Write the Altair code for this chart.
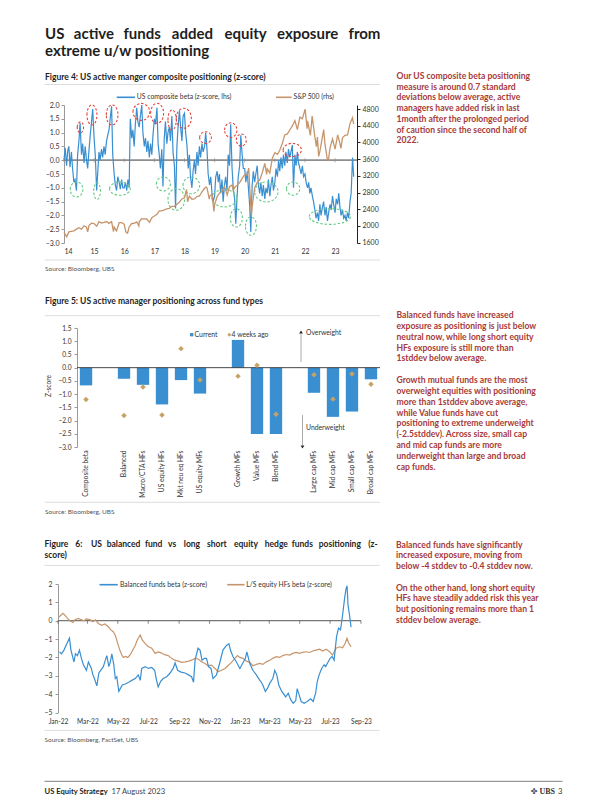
import altair as alt
import pandas as pd

FONT = "Lato"
BLUE = "#3a8fd1"
BROWN = "#c6956b"
TAN = "#c7a265"
DARKRED = "#a63a38"
INK = "#1e1e1e"
AXT = "#333333"
RED_C = "#e5463f"
GREEN_C = "#63cc83"

# ---------------- Figure 4 data ----------------
comp_2014 = [0.0, 0.45, -0.2, 0.35, 0.5, -0.25, 0.3, -0.3, -0.8, -0.7, -1.1, 0.2, 0.7, 1.35, 0.2, 0.6, -0.1, 0.5, 0.0, -0.3, 0.4, 0.9, 1.4, 1.85]
comp_2015 = [0.8, 0.2, -1.1, -0.4, 0.3, 0.0, 0.4, 0.1, 0.5, 0.2, 0.7, 0.9, 1.1, 1.5, 1.95, 0.2, -0.5, -0.9, -1.1, -0.6, -0.8, -1.05, -0.7, -1.0]
comp_2016 = [-1.0, -0.8, -1.1, -0.7, -1.0, 1.5, 0.8, 1.1, 0.5, 1.3, 1.9, 1.4, 1.2, 1.6, 2.0, 1.0, 0.5, 0.8, 0.3, 0.7, 0.1, 0.6, 0.2, 0.9]
comp_2017 = [1.5, 1.3, 1.9, 0.6, 0.2, -0.3, 0.4, -0.95, 0.8, 1.4, 0.6, 1.0, 1.2, 0.7, 1.6, 0.3, -0.2, -1.75, 0.5, 1.2, 1.8, 1.2, 0.7, 1.6]
comp_2018 = [1.7, 1.0, 0.5, -0.3, 0.2, -0.6, -1.0, -0.4, 0.0, -0.5, 0.3, -0.2, 0.5, 0.1, 0.6, 0.3, 0.5, 1.0, 0.4, -0.5, -0.9, -0.6, -1.2, -1.5]
comp_2019 = [-1.3, -0.6, -0.4, -0.8, -0.5, -1.2, -0.7, -1.5, -0.9, -0.6, -1.1, 0.2, -0.2, 1.3, -0.3, -1.0, -1.4, -2.3, -1.3, -0.6, -0.2, 0.9, 0.2, -0.3]
comp_2020 = [-0.3, -0.8, -0.4, -1.0, -1.6, -2.6, -0.9, -0.4, -0.8, -0.5, -0.2, -0.9, -1.2, -0.8, -1.3, -0.9, -1.4, -1.0, -1.2, -0.7, -1.3, -0.9, -0.6, -1.1]
comp_2021 = [-0.8, -0.3, -0.6, 0.0, -0.4, 0.1, -0.3, 0.2, -0.2, 0.3, -0.1, 0.4, 0.1, 0.3, 0.55, -1.0, 0.2, -0.2, 0.3, -0.1, -0.3, -0.5, -0.2, -0.6]
comp_2022 = [-0.5, -0.8, -1.0, -0.8, -1.2, -1.0, -1.3, -1.5, -1.8, -2.1, -1.9, -2.2, -1.6, -2.0, -1.7, -1.5, -2.0, -1.7, -2.2, -1.9, -1.6, -1.8, -1.3, -1.6]
comp_2023 = [-1.9, -1.4, -1.6, -1.2, -1.7, -2.0, -1.8, -2.1, -2.0, -2.2, -1.9, -2.1, -1.5, -1.2, 0.1, -0.6]
comp_values = (comp_2014 + comp_2015 + comp_2016 + comp_2017 + comp_2018 +
               comp_2019 + comp_2020 + comp_2021 + comp_2022 + comp_2023)

spx_dates = ["2014-01-01", "2014-02-03", "2014-03-01", "2014-04-01", "2014-05-01", "2014-06-01", "2014-07-01", "2014-08-01",
             "2014-09-01", "2014-10-01", "2014-10-15", "2014-11-01", "2014-12-01", "2015-01-01", "2015-02-01", "2015-03-01",
             "2015-04-01", "2015-05-01", "2015-06-01", "2015-07-01", "2015-08-01", "2015-08-24", "2015-09-01", "2015-09-29",
             "2015-11-01", "2015-12-01", "2016-01-01", "2016-01-20", "2016-02-11", "2016-03-01", "2016-04-01", "2016-05-01",
             "2016-06-01", "2016-06-27", "2016-07-01", "2016-08-01", "2016-09-01", "2016-10-01", "2016-11-03", "2016-12-01",
             "2017-01-01", "2017-02-01", "2017-03-01", "2017-04-01", "2017-05-01", "2017-06-01", "2017-07-01", "2017-08-01",
             "2017-09-01", "2017-10-01", "2017-11-01", "2017-12-01", "2018-01-01", "2018-01-26", "2018-02-08", "2018-03-01",
             "2018-04-01", "2018-05-01", "2018-06-01", "2018-07-01", "2018-08-01", "2018-09-01", "2018-09-20", "2018-10-01",
             "2018-10-29", "2018-11-01", "2018-12-01", "2018-12-24", "2019-01-01", "2019-02-01", "2019-03-01", "2019-04-01",
             "2019-05-01", "2019-06-03", "2019-07-01", "2019-08-01", "2019-08-15", "2019-09-01", "2019-10-01", "2019-11-01",
             "2019-12-01", "2020-01-01", "2020-02-01", "2020-02-19", "2020-03-01", "2020-03-23", "2020-04-01", "2020-05-01",
             "2020-06-01", "2020-07-01", "2020-08-01", "2020-09-01", "2020-09-23", "2020-10-01", "2020-11-01", "2020-12-01",
             "2021-01-01", "2021-02-01", "2021-03-01", "2021-04-01", "2021-05-01", "2021-06-01", "2021-07-01", "2021-08-01",
             "2021-09-01", "2021-10-01", "2021-11-01", "2021-12-01", "2022-01-03", "2022-01-27", "2022-02-01", "2022-03-08",
             "2022-03-29", "2022-05-01", "2022-05-20", "2022-06-01", "2022-06-16", "2022-07-01", "2022-08-16", "2022-09-01",
             "2022-09-30", "2022-10-12", "2022-11-01", "2022-12-01", "2023-01-01", "2023-02-02", "2023-03-01", "2023-03-13",
             "2023-04-01", "2023-05-01", "2023-06-01", "2023-07-01", "2023-07-31", "2023-08-15"]
spx_values = [1848, 1742, 1859, 1872, 1884, 1924, 1960, 1925,
              2003, 1972, 1862, 2018, 2068, 2059, 1995, 2105,
              2068, 2086, 2107, 2063, 2104, 1868, 1972, 1882,
              2079, 2080, 2044, 1859, 1829, 1978, 2060, 2065,
              2097, 2001, 2099, 2174, 2171, 2168, 2088, 2199,
              2239, 2279, 2364, 2363, 2384, 2412, 2423, 2470,
              2472, 2519, 2575, 2648, 2674, 2873, 2581, 2714,
              2641, 2648, 2705, 2718, 2816, 2902, 2931, 2914,
              2641, 2712, 2760, 2351, 2507, 2704, 2784, 2834,
              2946, 2744, 2942, 2980, 2848, 2926, 2977, 3038,
              3141, 3231, 3226, 3386, 2954, 2237, 2470, 2912,
              3044, 3100, 3271, 3500, 3237, 3363, 3270, 3622,
              3756, 3714, 3811, 3973, 4181, 4204, 4298, 4395,
              4523, 4308, 4605, 4567, 4797, 4327, 4516, 4170,
              4631, 4132, 3901, 4132, 3667, 3785, 4305, 3955,
              3586, 3577, 3872, 4080, 3840, 4179, 3970, 3855,
              4109, 4169, 4180, 4450, 4589, 4437]

red_dates = ["2014-07-19", "2014-12-06", "2015-08-08", "2016-07-27", "2017-02-03", "2017-08-04",
             "2017-12-24", "2018-09-13", "2019-07-16", "2019-11-21", "2021-07-31"]
red_z = [1.19, 1.64, 1.64, 1.75, 1.70, 1.46, 1.52, 0.82, 1.09, 0.73, 0.37]
red_w = [6.3, 10, 11.7, 16.7, 13, 8.3, 15, 11.7, 12.3, 10, 18.3]
red_h = [11, 20, 20, 17, 20, 20, 20, 11.7, 14.7, 12, 13.3]
green_dates = ["2014-06-02", "2015-02-06", "2015-11-10", "2017-04-20", "2017-09-24", "2018-03-25",
               "2019-04-30", "2019-09-22", "2020-03-17", "2020-09-20", "2021-08-10", "2022-10-30"]
green_z = [-1.06, -1.12, -1.03, -0.86, -1.42, -0.91, -1.38, -2.09, -2.39, -1.15, -1.03, -2.04]
green_w = [12.7, 6.7, 20.7, 14, 16.7, 16.7, 25, 12, 11, 23.3, 13.3, 41.3]
green_h = [15, 16.7, 13.3, 14, 21.7, 16.7, 17.3, 18.3, 18.3, 20, 13.3, 15.7]

# ---------------- Figure 5 data ----------------
fund_types = ["Composite beta", "Balanced", "Macro/CTA HFs", "US equity HFs", "Mkt neu eq HFs", "US equity MFs",
              "Growth MFs", "Value MFs", "Blend MFs", "Large cap MFs", "Mid cap MFs", "Small cap MFs", "Broad cap MFs"]
current_z = [-0.67, -0.42, -0.65, -1.39, -0.47, -0.98, 1.05, -2.51, -2.51, -0.95, -1.86, -1.66, -0.44]
weeks4_z = [-1.2, -1.81, -0.73, -1.79, 0.72, -0.47, -0.32, 0.09, -1.76, -0.27, -1.19, -0.24, -0.63]
slot_order = ["Composite beta", " ", "Balanced", "Macro/CTA HFs", "US equity HFs", "Mkt neu eq HFs", "US equity MFs",
              "  ", "Growth MFs", "Value MFs", "Blend MFs", "   ", "Large cap MFs", "Mid cap MFs", "Small cap MFs",
              "Broad cap MFs"]

# ---------------- Figure 6 data ----------------
bal_dates = ["2022-01-04", "2022-01-08", "2022-01-13", "2022-01-18", "2022-01-24", "2022-01-27", "2022-02-02", "2022-02-05",
             "2022-02-09", "2022-02-13", "2022-02-17", "2022-02-21", "2022-02-27", "2022-03-03", "2022-03-09", "2022-03-12",
             "2022-03-15", "2022-03-20", "2022-03-24", "2022-03-29", "2022-04-02", "2022-04-06", "2022-04-09", "2022-04-13",
             "2022-04-16", "2022-04-19", "2022-04-23", "2022-04-26", "2022-04-29", "2022-05-03", "2022-05-06", "2022-05-10",
             "2022-05-16", "2022-05-23", "2022-05-29", "2022-06-05", "2022-06-11", "2022-06-15", "2022-06-18", "2022-06-25",
             "2022-07-01", "2022-07-08", "2022-07-14", "2022-07-17", "2022-07-21", "2022-07-26", "2022-07-31", "2022-08-07",
             "2022-08-14", "2022-08-20", "2022-08-24", "2022-08-29", "2022-09-05", "2022-09-13", "2022-09-20", "2022-09-26",
             "2022-09-30", "2022-10-03", "2022-10-09", "2022-10-13", "2022-10-17", "2022-10-22", "2022-10-26", "2022-10-30",
             "2022-11-04", "2022-11-08", "2022-11-15", "2022-11-22", "2022-11-28", "2022-12-05", "2022-12-10", "2022-12-13",
             "2022-12-18", "2022-12-25", "2023-01-01", "2023-01-05", "2023-01-08", "2023-01-12", "2023-01-15", "2023-01-21",
             "2023-01-27", "2023-02-03", "2023-02-10", "2023-02-13", "2023-02-16", "2023-02-21", "2023-02-25", "2023-03-02",
             "2023-03-08", "2023-03-12", "2023-03-16", "2023-03-20", "2023-03-26", "2023-04-03", "2023-04-08", "2023-04-13",
             "2023-04-18", "2023-04-23", "2023-04-26", "2023-04-30", "2023-05-04", "2023-05-10", "2023-05-16", "2023-05-23",
             "2023-05-28", "2023-06-02", "2023-06-05", "2023-06-09", "2023-06-14", "2023-06-19", "2023-06-22", "2023-06-27",
             "2023-07-01", "2023-07-05", "2023-07-09", "2023-07-14", "2023-07-18", "2023-07-22", "2023-07-26", "2023-07-30",
             "2023-08-02", "2023-08-04", "2023-08-06", "2023-08-09", "2023-08-12"]
bal_z = [-1.7, -1.8, -1.6, -1.3, -0.95, -1.6, -2.25, -1.8,
         -1.9, -1.6, -2.05, -2.4, -2.7, -2.25, -2.6, -2.95,
         -3.15, -3.55, -2.85, -2.65, -2.5, -2.15, -1.9, -2.5,
         -2.25, -1.8, -2.4, -3.15, -3.05, -3.85, -3.7, -3.5,
         -3.45, -3.35, -3.25, -3.15, -2.95, -3.25, -2.6, -2.5,
         -2.6, -2.55, -2.7, -3.15, -3.6, -3.3, -3.15, -3.05,
         -2.85, -2.6, -2.3, -2.7, -2.8, -2.85, -2.95, -3.05,
         -3.35, -2.15, -1.5, -1.6, -2.15, -2.05, -2.05, -2.5,
         -2.6, -3.15, -2.95, -2.25, -1.6, -1.35, -1.25, -1.6,
         -1.95, -2.25, -2.6, -2.4, -2.25, -2.05, -1.7, -2.35,
         -2.7, -2.95, -3.25, -3.35, -3.5, -3.85, -3.7, -3.4,
         -3.15, -2.7, -2.95, -3.5, -3.85, -4.15, -3.95, -4.3,
         -4.5, -4.35, -3.7, -4.05, -4.4, -4.5, -4.4, -4.25,
         -4.4, -3.95, -3.35, -2.95, -2.6, -2.4, -2.5, -2.25,
         -2.05, -1.95, -2.15, -0.85, -0.4, -0.5, 0.3, 1.2,
         1.75, 1.9, 0.85, 0.3, -0.35]

hf_dates = ["2022-01-03", "2022-01-11", "2022-01-15", "2022-01-20", "2022-01-25", "2022-01-31", "2022-02-04", "2022-02-11",
            "2022-02-15", "2022-02-22", "2022-02-27", "2022-03-07", "2022-03-12", "2022-03-17", "2022-03-23", "2022-03-30",
            "2022-04-05", "2022-04-12", "2022-04-17", "2022-04-22", "2022-04-26", "2022-05-01", "2022-05-05", "2022-05-09",
            "2022-05-12", "2022-05-16", "2022-05-21", "2022-05-26", "2022-05-31", "2022-06-05", "2022-06-09", "2022-06-15",
            "2022-06-19", "2022-06-25", "2022-07-01", "2022-07-08", "2022-07-15", "2022-07-21", "2022-07-27", "2022-08-03",
            "2022-08-10", "2022-08-17", "2022-08-23", "2022-08-31", "2022-09-06", "2022-09-13", "2022-09-20", "2022-09-26",
            "2022-10-03", "2022-10-10", "2022-10-16", "2022-10-23", "2022-10-29", "2022-11-05", "2022-11-12", "2022-11-18",
            "2022-11-25", "2022-12-02", "2022-12-08", "2022-12-15", "2022-12-22", "2022-12-27", "2023-01-01", "2023-01-07",
            "2023-01-14", "2023-01-21", "2023-01-27", "2023-02-03", "2023-02-10", "2023-02-16", "2023-02-23", "2023-03-02",
            "2023-03-08", "2023-03-15", "2023-03-22", "2023-03-28", "2023-04-04", "2023-04-11", "2023-04-17", "2023-04-24",
            "2023-05-01", "2023-05-07", "2023-05-14", "2023-05-21", "2023-05-27", "2023-06-03", "2023-06-10", "2023-06-16",
            "2023-06-23", "2023-06-30", "2023-07-06", "2023-07-13", "2023-07-20", "2023-07-26", "2023-07-31", "2023-08-04",
            "2023-08-07", "2023-08-12"]
hf_z = [0.2, 0.4, 0.3, 0.13, 0.0, -0.1, 0.05, 0.13,
        0.07, 0.0, 0.1, 0.05, -0.05, 0.05, -0.15, -0.25,
        -0.18, -0.33, -0.5, -0.6, -0.8, -1.25, -1.6, -1.87,
        -2.0, -1.95, -2.0, -1.85, -1.6, -1.35, -1.05, -0.78,
        -1.05, -1.25, -1.4, -1.5, -1.78, -1.7, -1.75, -1.85,
        -1.9, -2.05, -2.15, -2.2, -2.27, -2.24, -2.2, -2.15,
        -2.05, -2.1, -2.24, -2.33, -2.45, -2.42, -2.6, -2.78,
        -2.7, -2.6, -2.45, -2.27, -2.05, -1.9, -2.0, -2.05,
        -2.2, -2.27, -2.45, -2.38, -2.33, -2.38, -2.24, -2.15,
        -2.05, -1.96, -2.0, -1.9, -1.84, -1.87, -1.78, -1.73,
        -1.78, -1.72, -1.69, -1.73, -1.65, -1.6, -1.55, -1.65,
        -1.55, -1.69, -1.87, -1.5, -1.42, -1.47, -1.24, -0.96,
        -1.2, -1.42]

# ---------------- page layout (page pixel coordinates) ----------------
P4 = dict(x=64, y=105, w=293, h=138)
P5 = dict(x=77, y=328, w=303, h=119)
P6 = dict(x=58.5, y=583.6, w=303, h=128.5)
BASE_X = P6["x"]


def txt(s, px, py, o, size=7.0, color=AXT, weight="normal", align="left", baseline="middle",
        angle=None, font=FONT, lh=None):
    kw = dict(align=align, baseline=baseline, fontSize=size, color=color, fontWeight=weight, font=font)
    if angle is not None:
        kw["angle"] = angle
    if lh is not None:
        kw["lineBreak"] = "\n"
        kw["lineHeight"] = lh
    return alt.Chart(pd.DataFrame({"t": [s]})).mark_text(**kw).encode(
        x=alt.value(px - o["x"]), y=alt.value(py - o["y"]), text="t:N")


def justified(line, x0, x1, natural_width, py, o, **kw):
    """Place the words of one line so that it spans x0..x1 (like justified print)."""
    words = line.split(" ")
    per_char = natural_width / len(line)
    extra = (x1 - x0 - natural_width) / (len(words) - 1)
    out, idx = [], 0
    for i, w in enumerate(words):
        out.append(txt(w, x0 + idx * per_char + i * extra, py, o, **kw))
        idx += len(w) + 1
    return out


def rule(px1, py1, px2, py2, o, color="#dddddd", width=1.0):
    return alt.Chart(pd.DataFrame({"a": [0]})).mark_rule(color=color, strokeWidth=width).encode(
        x=alt.value(px1 - o["x"]), x2=alt.value(px2 - o["x"]),
        y=alt.value(py1 - o["y"]), y2=alt.value(py2 - o["y"]))


def sym(px, py, o, shape, size, color, opacity=1.0):
    return alt.Chart(pd.DataFrame({"a": [0]})).mark_point(
        shape=shape, size=size, filled=True, color=color, opacity=opacity, strokeWidth=0).encode(
        x=alt.value(px - o["x"]), y=alt.value(py - o["y"]))


def spacer(w, h):
    return alt.Chart(pd.DataFrame({"s": [0]})).mark_point(opacity=0, size=1).encode(
        x=alt.value(0), y=alt.value(0)).properties(width=w, height=h)


# ================= Figure 4 =================
comp_df = pd.DataFrame({"date": pd.date_range("2014-01-01", periods=len(comp_values), freq="SMS"),
                        "z": comp_values})
spx_df = pd.DataFrame({"date": pd.to_datetime(spx_dates), "spx": spx_values})

S = 44.0


def ellipse_path(w, h):
    a = w / S
    b = h / S
    return f"M {-a:.3f} 0 A {a:.3f} {b:.3f} 0 1 1 {a:.3f} 0 A {a:.3f} {b:.3f} 0 1 1 {-a:.3f} 0 Z"


circ_df = pd.DataFrame({
    "date": pd.to_datetime(red_dates + green_dates),
    "z": red_z + green_z,
    "col": [RED_C] * len(red_dates) + [GREEN_C] * len(green_dates),
    "path": [ellipse_path(w, h) for w, h in zip(red_w + green_w, red_h + green_h)],
})
year_ticks = pd.DataFrame({"date": pd.to_datetime([f"{y}-01-01" for y in range(2014, 2024)]), "z": 0.0})

x4 = alt.X("date:T", title=None,
           scale=alt.Scale(domain=[alt.DateTime(year=2014, month=1, date=1),
                                   alt.DateTime(year=2023, month=9, date=24)]),
           axis=alt.Axis(format="%y", values=[alt.DateTime(year=y, month=1, date=1) for y in range(2014, 2024)],
                         domain=False, ticks=False, labelPadding=4, labelFontSize=7, labelColor=AXT,
                         labelFont=FONT, grid=False))
y4 = alt.Y("z:Q", title=None, scale=alt.Scale(domain=[-3, 2], nice=False, zero=False),
           axis=alt.Axis(values=[-3, -2.5, -2, -1.5, -1, -0.5, 0, 0.5, 1, 1.5, 2], format=".1f",
                         domainColor="#9a9a9a", tickColor="#9a9a9a", tickSize=3, labelPadding=2,
                         labelFontSize=7, labelColor=AXT, labelFont=FONT, grid=False))

zero4 = alt.Chart(pd.DataFrame({"z": [0.0]})).mark_rule(color="#8e8e8e", strokeWidth=1.8).encode(y=y4)
ticks4 = alt.Chart(year_ticks).mark_tick(orient="vertical", size=4, thickness=1, color="#8e8e8e").encode(x=x4, y=y4)
comp_line = alt.Chart(comp_df).mark_line(color=BLUE, strokeWidth=1.2).encode(x=x4, y=y4)
circles = alt.Chart(circ_df).mark_point(filled=False, strokeDash=[2.5, 1.8], strokeWidth=1.1, size=S * S,
                                        opacity=1).encode(
    x=x4, y=y4,
    shape=alt.Shape("path:N", scale=None, legend=None),
    color=alt.Color("col:N", scale=None, legend=None))
left4 = alt.layer(zero4, ticks4, comp_line, circles)

spx_line = alt.Chart(spx_df).mark_line(color=BROWN, strokeWidth=1.3).encode(
    x=x4,
    y=alt.Y("spx:Q", title=None, scale=alt.Scale(domain=[1593, 4896], nice=False, zero=False),
            axis=alt.Axis(orient="right", values=list(range(1600, 4801, 400)), format="d",
                          domainColor="#222222", tickColor="#222222", tickSize=3, labelPadding=2,
                          labelFontSize=7, labelColor=AXT, labelFont=FONT, grid=False)))

# justified first title line: each word placed along the line
title_words = ["US", "active", "funds", "added", "equity", "exposure", "from"]
title_word_x = [45, 73.8, 123.4, 171.8, 224.4, 277, 348.5]

deco4 = [
    # anchor for the page origin (top-left of page content)
    sym(9, 9, P4, "square", 4, "white", opacity=0),
    *[txt(w, x, 34, P4, size=15, color=INK, weight="bold") for w, x in zip(title_words, title_word_x)],
    txt("extreme u/w positioning", 45, 51, P4, size=15, color=INK, weight="bold"),
    txt("Figure 4: US active manger composite positioning (z-score)", 45, 76.5, P4, size=8.5, color=INK, weight="bold"),
    rule(45, 84.5, 380, 84.5, P4),
    rule(116.7, 97.3, 135, 97.3, P4, color=BLUE, width=1.6),
    txt("US composite beta (z-score, lhs)", 136.8, 97.3, P4, size=6.8),
    rule(276, 97.3, 291.7, 97.3, P4, color=BROWN, width=1.6),
    txt("S&P 500 (rhs)", 293.5, 97.3, P4, size=6.8),
    rule(45, 260, 380, 260, P4),
    txt("Source: Bloomberg, UBS", 45, 268.5, P4, size=6.5, color="#555555"),
    txt("Our US composite beta positioning\nmeasure is around 0.7 standard\ndeviations below average, active\n"
        "managers have added risk in last\n1month after the prolonged period\nof caution since the second half of\n2022.",
        396.5, 79, P4, size=8.6, color=DARKRED, weight="bold", baseline="alphabetic", lh=10.7),
]
fig4 = alt.layer(left4, spx_line, *deco4).resolve_scale(y="independent").properties(width=P4["w"], height=P4["h"])

# ================= Figure 5 =================
df5 = pd.DataFrame({"cat": fund_types, "cur": current_z, "ago": weeks4_z})
x5 = alt.X("cat:N", title=None, sort=slot_order,
           scale=alt.Scale(domain=slot_order, paddingInner=0.35, paddingOuter=0.15),
           axis=alt.Axis(labelAngle=-90, domain=False, ticks=False, labelPadding=3, labelFontSize=6.7,
                         labelColor=AXT, labelFont=FONT, labelLimit=200))
y5_scale = alt.Scale(domain=[-3, 1.5], nice=False, zero=False)
y5_axis = alt.Axis(values=[-3, -2.5, -2, -1.5, -1, -0.5, 0, 0.5, 1, 1.5], format=".1f",
                   domainColor="#9a9a9a", tickColor="#9a9a9a", tickSize=3, labelPadding=3,
                   labelFontSize=6.6, labelColor=AXT, labelFont=FONT, grid=False)
bars5 = alt.Chart(df5).mark_bar(color=BLUE).encode(
    x=x5, y=alt.Y("cur:Q", title=None, scale=y5_scale, axis=y5_axis))
pts5 = alt.Chart(df5).mark_point(shape="diamond", filled=True, size=30, color=TAN, opacity=1).encode(
    x=x5, y=alt.Y("ago:Q", title=None, scale=y5_scale, axis=y5_axis))
zero5 = alt.Chart(pd.DataFrame({"v": [0.0]})).mark_rule(color="#333333", strokeWidth=0.9).encode(
    y=alt.Y("v:Q", title=None, scale=y5_scale, axis=y5_axis))

deco5 = [
    txt("Figure 5: US active manager positioning across fund types", 45, 301, P5, size=8.5, color=INK, weight="bold"),
    rule(45, 315.7, 380, 315.7, P5),
    sym(191.7, 334.7, P5, "square", 11, BLUE),
    txt("Current", 194.6, 334.7, P5, size=6.8),
    sym(229.3, 334.7, P5, "diamond", 16, TAN),
    txt("4 weeks ago", 231.6, 334.7, P5, size=6.8),
    rule(301, 334, 301, 362, P5, color="#aaaaaa", width=1),
    sym(301, 332, P5, "triangle-up", 14, "#222222"),
    txt("Overweight", 306, 333.3, P5, size=6.8),
    rule(302.5, 415, 302.5, 445, P5, color="#aaaaaa", width=1),
    sym(302.5, 447, P5, "triangle-down", 14, "#222222"),
    txt("Underweight", 306, 427.7, P5, size=6.8),
    txt("Z-score", 49, 386, P5, size=6.6, align="center", angle=270),
    rule(45, 502.3, 380, 502.3, P5),
    txt("Source: Bloomberg, UBS", 45, 511.7, P5, size=6.5, color="#555555"),
    txt("Balanced funds have increased\nexposure as positioning is just below\nneutral now, while long short equity\n"
        "HFs exposure is still more than\n1stddev below average.",
        396.5, 318, P5, size=8.6, color=DARKRED, weight="bold", baseline="alphabetic", lh=10.85),
    txt("Growth mutual funds are the most\noverweight equities with positioning\nmore than 1stddev above average,\n"
        "while Value funds have cut\npositioning to extreme underweight\n(-2.5stddev). Across size, small cap\n"
        "and mid cap funds are more\nunderweight than large and broad\ncap funds.",
        396.5, 383, P5, size=8.6, color=DARKRED, weight="bold", baseline="alphabetic", lh=10.85),
]
fig5 = alt.layer(bars5, zero5, pts5, *deco5).properties(width=P5["w"], height=P5["h"])

# ================= Figure 6 =================
bal_df = pd.DataFrame({"date": pd.to_datetime(bal_dates), "z": bal_z})
hf_df = pd.DataFrame({"date": pd.to_datetime(hf_dates), "z": hf_z})
tick_months = [(2022, 1), (2022, 3), (2022, 5), (2022, 7), (2022, 9), (2022, 11),
               (2023, 1), (2023, 3), (2023, 5), (2023, 7), (2023, 9)]
month_ticks = pd.DataFrame({"date": pd.to_datetime([f"{y}-{m:02d}-01" for y, m in tick_months]), "z": 0.0})

x6 = alt.X("date:T", title=None,
           scale=alt.Scale(domain=[alt.DateTime(year=2022, month=1, date=1),
                                   alt.DateTime(year=2023, month=9, date=1)]),
           axis=alt.Axis(format="%b-%y", values=[alt.DateTime(year=y, month=m, date=1) for y, m in tick_months],
                         domain=False, ticks=False, labelPadding=6, labelFontSize=6.6, labelColor=AXT,
                         labelFont=FONT, grid=False, labelOverlap=False, labelFlush=False))
y6 = alt.Y("z:Q", title=None, scale=alt.Scale(domain=[-5, 2], nice=False, zero=False),
           axis=alt.Axis(values=[-5, -4, -3, -2, -1, 0, 1, 2], format="d",
                         domainColor="#9a9a9a", tickColor="#9a9a9a", tickSize=3, labelPadding=3,
                         labelFontSize=6.8, labelColor=AXT, labelFont=FONT, grid=False))
zero6 = alt.Chart(pd.DataFrame({"z": [0.0]})).mark_rule(color="#555555", strokeWidth=1).encode(y=y6)
ticks6 = alt.Chart(month_ticks).mark_tick(orient="vertical", size=3, thickness=1, color="#555555",
                                          yOffset=1.5).encode(x=x6, y=y6)
hf_line = alt.Chart(hf_df).mark_line(color=BROWN, strokeWidth=1.2).encode(x=x6, y=y6)
bal_line = alt.Chart(bal_df).mark_line(color=BLUE, strokeWidth=1.2).encode(x=x6, y=y6)

fig6_title = "Figure 6: US balanced fund vs long short equity hedge funds positioning (z-"
deco6 = [
    *justified(fig6_title, 45, 380, 282, 544, P6, size=8.5, color=INK, weight="bold"),
    txt("score)", 45, 555, P6, size=8.5, color=INK, weight="bold"),
    rule(45, 565, 380, 565, P6),
    rule(100, 584.3, 118.3, 584.3, P6, color=BLUE, width=1.6),
    txt("Balanced funds beta (z-score)", 120.5, 584.3, P6, size=6.8),
    rule(227.7, 584.3, 245, 584.3, P6, color=BROWN, width=1.6),
    txt("L/S equity HFs beta (z-score)", 246.8, 584.3, P6, size=6.8),
    rule(45, 730, 380, 730, P6),
    txt("Source: Bloomberg, FactSet, UBS", 45, 739.3, P6, size=6.5, color="#555555"),
    txt("Balanced funds have significantly\nincreased exposure, moving from\nbelow -4 stddev to -0.4 stddev now.",
        396.5, 547.3, P6, size=8.6, color=DARKRED, weight="bold", baseline="alphabetic", lh=10.8),
    txt("On the other hand, long short equity\nHFs have steadily added risk this year\nbut positioning remains more than 1\n"
        "stddev below average.",
        396.5, 590.3, P6, size=8.6, color=DARKRED, weight="bold", baseline="alphabetic", lh=10.8),
    rule(45, 781, 563, 781, P6, color="#9a9a9a", width=1.2),
    txt("US Equity Strategy", 45, 792, P6, size=7.6, color=INK, weight="bold"),
    txt("17 August 2023", 112, 792, P6, size=7.6, color="#444444"),
    txt("\u2724", 538, 792, P6, size=8, color="#555555", align="right", font="DejaVu Sans"),
    txt("UBS", 555.5, 792, P6, size=8, color="#333333", align="right", weight="bold", font="Liberation Serif"),
    txt("3", 563, 792, P6, size=7.6, color="#333333", align="right"),
]
fig6 = alt.layer(zero6, ticks6, hf_line, bal_line, *deco6).properties(width=P6["w"], height=P6["h"])

# ================= page assembly =================
# (nested row groups count as zero height in a flush layout, so each spacer
#  carries the height of the row above it plus the gap)
row4 = alt.hconcat(spacer(P4["x"] - BASE_X, 10), fig4, spacing=0, bounds="flush")
row5 = alt.hconcat(spacer(P5["x"] - BASE_X, 10), fig5, spacing=0, bounds="flush")
gap1 = P5["y"] - P4["y"]
gap2 = P6["y"] - P5["y"]

chart = alt.vconcat(row4, spacer(1, gap1), row5, spacer(1, gap2), fig6, spacing=0, bounds="flush").properties(
    padding=0, background="white"
).configure(font=FONT).configure_view(stroke=None)

chart.save("out.html", embed_options={"renderer": "svg", "actions": False})
